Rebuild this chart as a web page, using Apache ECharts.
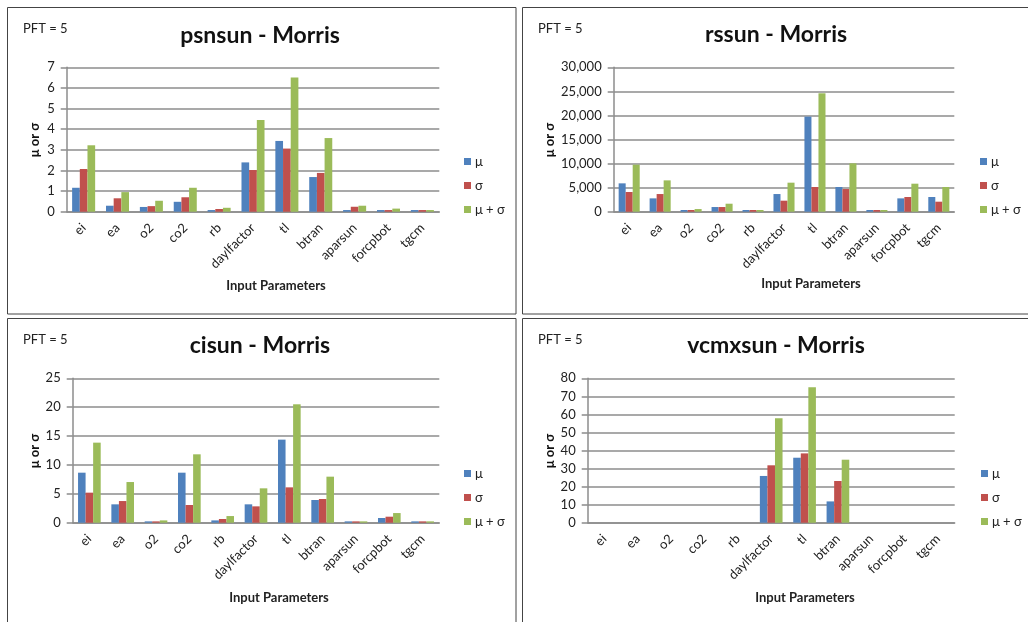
<!DOCTYPE html>
<html>
<head>
<meta charset="utf-8">
<script src="https://cdn.jsdelivr.net/npm/echarts@6/dist/echarts.min.js"></script>
<style>
html,body{margin:0;padding:0;background:#fff;}
#c{width:1028px;height:622px;}
</style>
</head>
<body>
<div id="c"></div>
<script>
var categories = ['ei','ea','o2','co2','rb','daylfactor','tl','btran','aparsun','forcpbot','tgcm'];
var seriesNames = ['\u03bc','\u03c3','\u03bc + \u03c3'];

var psnsunMu    = [1.16,0.29,0.23,0.48,0.08,2.39,3.43,1.68,0.08,0.08,0.08];
var psnsunSigma = [2.07,0.65,0.27,0.70,0.13,2.02,3.06,1.88,0.24,0.08,0.08];
var psnsunSum   = [3.22,0.95,0.53,1.16,0.19,4.45,6.51,3.57,0.29,0.15,0.08];

var rssunMu    = [5890,2770,350,970,350,3670,19750,5130,350,2770,3050];
var rssunSigma = [4090,3670,350,970,350,2290,5130,4710,350,3050,2080];
var rssunSum   = [9770,6510,550,1660,350,6030,24600,10050,350,5820,5130];

var cisunMu    = [8.66,3.18,0.23,8.66,0.40,3.18,14.38,3.93,0.23,0.81,0.23];
var cisunSigma = [5.20,3.75,0.23,3.06,0.64,2.83,6.12,4.10,0.23,1.04,0.23];
var cisunSum   = [13.86,7.04,0.40,11.84,1.15,5.95,20.5,7.97,0.23,1.67,0.23];

var vcmxsunMu    = [0,0,0,0,0,25.9,36.0,11.8,0,0,0];
var vcmxsunSigma = [0,0,0,0,0,31.8,38.4,23.1,0,0,0];
var vcmxsunSum   = [0,0,0,0,0,57.9,75.0,34.9,0,0,0];

var titles = ['psnsun - Morris','rssun - Morris','cisun - Morris','vcmxsun - Morris'];
var yMax = [7,30000,25,80];
var yInterval = [1,5000,5,10];
var pftLabel = 'PFT = 5';
var xName = 'Input Parameters';
var yName = '\u03bc or \u03c3';

var panelData = [
  [psnsunMu, psnsunSigma, psnsunSum],
  [rssunMu, rssunSigma, rssunSum],
  [cisunMu, cisunSigma, cisunSum],
  [vcmxsunMu, vcmxsunSigma, vcmxsunSum]
];

var colors = ['#4F81BD','#C0504D','#9BBB59'];
var FONT = 'Lato, "Open Sans", sans-serif';

// layout
var grids = [
  {left:66.7, top:67.3, width:372.6, height:144.4},
  {left:613.7, top:67.3, width:340.6, height:144.4},
  {left:72.7, top:378.3, width:366.6, height:144.4},
  {left:587.7, top:378.3, width:367, height:144.4}
];
var panels = [
  {x:7, y:7},{x:522, y:7},{x:7, y:318},{x:522, y:318}
];
var titlePos = [[260,36],[776,35],[260,346],[776,346]];
var xNamePos = [[276,286],[811,284],[279,598],[805,598]];
var yNamePos = [[35,140],[550,140],[35,451],[550,451]];
var legendPos = [[459,150],[975,150],[459,462],[976,462]];

function fmt(v){ return String(v).replace(/\B(?=(\d{3})+(?!\d))/g, ','); }

var option = {
  backgroundColor:'#fff',
  animation:false,
  color: colors,
  grid: [], xAxis: [], yAxis: [], series: [], legend: [], graphic: []
};

for (var p=0;p<4;p++){
  option.grid.push({left:grids[p].left, top:grids[p].top, width:grids[p].width, height:grids[p].height, containLabel:false});
  option.xAxis.push({
    type:'category', gridIndex:p, data:categories,
    axisLine:{show:true, lineStyle:{color:'#8c8c8c', width:1.5}},
    axisTick:{show:false},
    axisLabel:{rotate:45, fontSize:13, color:'#222', fontFamily:FONT, margin:14, interval:0}
  });
  option.yAxis.push({
    type:'value', gridIndex:p, min:0, max:yMax[p], interval:yInterval[p],
    axisLine:{show:true, lineStyle:{color:'#8c8c8c', width:1.5}},
    axisTick:{show:true, inside:false, length:6, lineStyle:{color:'#8c8c8c', width:1.5}},
    splitLine:{show:true, lineStyle:{color:'#8c8c8c', width:1.5}},
    axisLabel:{fontSize:13, color:'#222', fontFamily:FONT, margin:12, formatter:fmt}
  });
  for (var s=0;s<3;s++){
    option.series.push({
      type:'bar', name:seriesNames[s], xAxisIndex:p, yAxisIndex:p,
      data:panelData[p][s], barGap:'0%', barCategoryGap:'32%',
      itemStyle:{color:colors[s]}
    });
  }
  option.legend.push({
    left:legendPos[p][0], top:legendPos[p][1], orient:'vertical',
    icon:'rect', itemWidth:7, itemHeight:7, itemGap:11,
    data:seriesNames,
    textStyle:{fontSize:13, color:'#222', fontFamily:FONT, padding:[0,0,0,-1]},
    selectedMode:false
  });
  // panel border
  option.graphic.push({
    type:'rect', silent:true,
    shape:{x:panels[p].x+0.5, y:panels[p].y+0.5, width:(p%2===0?508.5:530), height:(p<2?306.5:330)},
    style:{fill:'none', stroke:'#444', lineWidth:1}
  });
  option.graphic.push({
    type:'text', left:panels[p].x+16, top:panels[p].y+15,
    style:{text:pftLabel, fontSize:13, fill:'#222', fontFamily:FONT}
  });
  option.graphic.push({
    type:'text', x:titlePos[p][0], y:titlePos[p][1],
    style:{text:titles[p], fontSize:23, fontWeight:'bold', fill:'#111', fontFamily:FONT, textAlign:'center', textVerticalAlign:'middle'}
  });
  option.graphic.push({
    type:'text', x:xNamePos[p][0], y:xNamePos[p][1],
    style:{text:xName, fontSize:13, fontWeight:'bold', fill:'#222', fontFamily:FONT, textAlign:'center', textVerticalAlign:'middle'}
  });
  option.graphic.push({
    type:'text', x:yNamePos[p][0], y:yNamePos[p][1], rotation:Math.PI/2,
    style:{text:yName, fontSize:13, fontWeight:'bold', fill:'#111', fontFamily:FONT, textAlign:'center', textVerticalAlign:'middle'}
  });
}

var chart = echarts.init(document.getElementById('c'), null, {renderer:'canvas'});
chart.setOption(option);
</script>
</body>
</html>
